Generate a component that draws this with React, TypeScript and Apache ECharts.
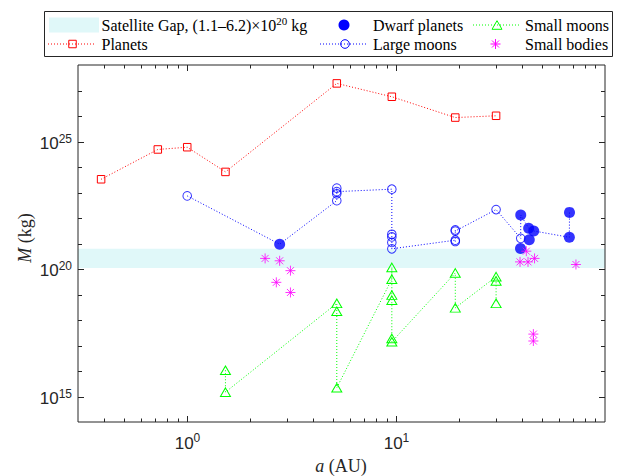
import { useEffect, useRef } from 'react';
import * as echarts from 'echarts';

// ---- axis ranges ----
const xMin = 0.3;
const xMax = 100;
const yMinExp = 14;
const yMaxExp = 28;
const xLabelExps = [0, 1, 2];
const yLabelExps = [15, 20, 25];

// ---- satellite gap band (kg) ----
const gapLow = 1.1e20;
const gapHigh = 6.2e20;

// ---- planets ----
const planetA = [0.387, 0.723, 1.0, 1.524, 5.2, 9.54, 19.2, 30.1];
const planetM = [3.3e23, 4.87e24, 5.97e24, 6.42e23, 1.9e27, 5.68e26, 8.68e25, 1.02e26];

// ---- large moons ----
const largeMoonNames = ['Moon', 'Europa', 'Io', 'Ganymede', 'Callisto', 'Titan', 'Rhea', 'Iapetus', 'Dione', 'Tethys', 'Ariel', 'Umbriel', 'Titania', 'Oberon', 'Triton', 'Charon'];
const largeMoonA = [1.0, 5.2, 5.2, 5.2, 5.2, 9.54, 9.54, 9.54, 9.54, 9.54, 19.2, 19.2, 19.2, 19.2, 30.1, 39.5];
const largeMoonM = [7.35e22, 4.8e22, 8.93e22, 1.48e23, 1.08e23, 1.35e23, 2.31e21, 1.81e21, 1.1e21, 6.2e20, 1.35e21, 1.2e21, 3.4e21, 3.08e21, 2.14e22, 1.59e21];

// ---- dwarf planets ----
const dwarfNames = ['Ceres', 'Pluto', 'Orcus', 'Haumea', 'Quaoar', 'Makemake', 'Gonggong', 'Eris'];
const dwarfA = [2.77, 39.5, 39.4, 43.1, 43.4, 45.6, 67.5, 67.6];
const dwarfM = [9.4e20, 1.3e22, 6.4e20, 4.0e21, 1.4e21, 3.1e21, 1.75e21, 1.66e22];

// order of the dotted path through large moons and dwarf planets
const largeMoonPath = ['Moon', 'Ceres', 'Europa', 'Io', 'Ganymede', 'Callisto', 'Titan', 'Rhea', 'Iapetus', 'Dione', 'Tethys', 'Ariel', 'Umbriel', 'Titania', 'Oberon', 'Triton', 'Charon', 'Pluto', 'Haumea', 'Makemake', 'Gonggong', 'Eris'];

// ---- small moons (in path order) ----
const smallMoonA = [1.524, 1.524, 5.2, 5.2, 5.2, 9.54, 9.54, 9.54, 9.54, 9.54, 9.54, 19.2, 19.2, 30.1, 30.1, 30.1];
const smallMoonM = [1.07e16, 1.48e15, 4.5e18, 2.2e18, 2.2e15, 4.0e19, 1.15e20, 9.5e18, 6.0e18, 1.9e17, 1.4e17, 7.0e19, 3.0e18, 5.0e19, 3.4e19, 4.5e18];

// ---- small bodies ----
const smallBodyA = [2.36, 2.77, 3.12, 2.67, 3.12, 42.0, 39.2, 42.8, 46.0, 72.6, 45.4, 45.4];
const smallBodyM = [2.6e20, 2.1e20, 8.6e19, 3.0e19, 1.2e19, 5.0e20, 1.9e20, 1.9e20, 2.6e20, 1.5e20, 2.8e17, 1.5e17];

// ---- styling ----
const axisColor = '#262626';
const bandColor = '#e0f8f9';
const red = '#ff0000';
const blue = '#0000ff';
const green = '#00ff00';
const magenta = '#ff00ff';
const serif = '"Liberation Serif", "Times New Roman", serif';
const sans = '"Liberation Sans", Arial, Helvetica, sans-serif';
const dotted = [1, 2];
const asteriskPath = 'path://M5,0L5,10M0,5L10,5M1.5,1.5L8.5,8.5M8.5,1.5L1.5,8.5';

const lg = Math.log10;
const pts = (a: number[], m: number[]) => a.map((x, i) => [lg(x), lg(m[i])]);

function buildOption() {
  const lookup: Record<string, number[]> = {};
  largeMoonNames.forEach((n, i) => (lookup[n] = [lg(largeMoonA[i]), lg(largeMoonM[i])]));
  dwarfNames.forEach((n, i) => (lookup[n] = [lg(dwarfA[i]), lg(dwarfM[i])]));
  const pathData = largeMoonPath.map((n) => lookup[n]);

  const xTickData: number[][] = [];
  for (let d = -1; d <= 1; d++) {
    for (let k = 1; k <= 9; k++) {
      const v = k * Math.pow(10, d);
      if (v > xMin * 1.001 && v < xMax * 0.999) {
        const major = k === 1 && xLabelExps.includes(d) ? 1 : 0;
        xTickData.push([lg(v), yMinExp, major, d]);
      }
    }
  }
  const yTickData: number[][] = [];
  for (let e = yMinExp + 1; e < yMaxExp; e++) {
    yTickData.push([lg(xMin), e, yLabelExps.includes(e) ? 1 : 0]);
  }

  const tickRich = {
    b: { fontSize: 17, fontFamily: sans, fill: axisColor, color: axisColor, lineHeight: 22 },
    s: { fontSize: 12, fontFamily: sans, fill: axisColor, color: axisColor, lineHeight: 12, verticalAlign: 'top' },
  };

  const legendRich = {
    n: { fontSize: 16, fontFamily: serif, fill: '#000', color: '#000', lineHeight: 20 },
    s: { fontSize: 11, fontFamily: serif, fill: '#000', color: '#000', lineHeight: 11, verticalAlign: 'top' },
  };

  const row1 = 25;
  const row2 = 44;
  const legendText = (x: number, y: number, text: string) => ({
    type: 'text',
    x,
    y,
    style: {
      text,
      rich: legendRich,
      fontSize: 16,
      fontFamily: serif,
      fill: '#000',
      verticalAlign: 'middle',
      textVerticalAlign: 'middle',
      align: 'left',
      textAlign: 'left',
    },
  });
  const dashLine = (x1: number, x2: number, y: number, color: string) => ({
    type: 'line',
    shape: { x1, y1: y, x2, y2: y },
    style: { stroke: color, lineWidth: 1, lineDash: dotted },
  });
  const ast = (cx: number, cy: number, r: number) => ({
    type: 'group',
    children: [
      { type: 'line', shape: { x1: cx, y1: cy - r, x2: cx, y2: cy + r }, style: { stroke: magenta, lineWidth: 1 } },
      { type: 'line', shape: { x1: cx - r, y1: cy, x2: cx + r, y2: cy }, style: { stroke: magenta, lineWidth: 1 } },
      { type: 'line', shape: { x1: cx - r * 0.7, y1: cy - r * 0.7, x2: cx + r * 0.7, y2: cy + r * 0.7 }, style: { stroke: magenta, lineWidth: 1 } },
      { type: 'line', shape: { x1: cx + r * 0.7, y1: cy - r * 0.7, x2: cx - r * 0.7, y2: cy + r * 0.7 }, style: { stroke: magenta, lineWidth: 1 } },
    ],
  });

  const graphic = [
    { type: 'rect', shape: { x: 44.5, y: 11.5, width: 568, height: 45 }, style: { fill: '#fff', stroke: axisColor, lineWidth: 1 } },
    { type: 'rect', shape: { x: 49, y: 17.5, width: 50, height: 15 }, style: { fill: bandColor } },
    legendText(101.5, row1, '{n|Satellite Gap, (1.1–6.2)×10}{s|20}{n| kg}'),
    dashLine(48, 96, row2, red),
    { type: 'rect', shape: { x: 68.75, y: row2 - 3.75, width: 7.5, height: 7.5 }, style: { fill: 'none', stroke: red, lineWidth: 1 } },
    legendText(101.5, row2, '{n|Planets}'),
    { type: 'circle', shape: { cx: 344, cy: row1, r: 5.5 }, style: { fill: blue } },
    legendText(373, row1, '{n|Dwarf planets}'),
    dashLine(320, 367, row2, blue),
    { type: 'circle', shape: { cx: 345, cy: row2, r: 4.3 }, style: { fill: 'none', stroke: blue, lineWidth: 1 } },
    legendText(373, row2, '{n|Large moons}'),
    dashLine(473, 521, row1, green),
    { type: 'polygon', shape: { points: [[497, row1 - 4.3], [502, row1 + 4.3], [492, row1 + 4.3]] }, style: { fill: 'none', stroke: green, lineWidth: 1 } },
    legendText(525, row1, '{n|Small moons}'),
    ast(495.5, row2, 5),
    legendText(525, row2, '{n|Small bodies}'),
    {
      type: 'text',
      x: 341,
      y: 466,
      style: {
        text: '{i|a}{n| (AU)}',
        rich: {
          i: { fontSize: 18, fontFamily: serif, fontStyle: 'italic', fill: axisColor, color: axisColor },
          n: { fontSize: 18, fontFamily: serif, fill: axisColor, color: axisColor },
        },
        align: 'center',
        textAlign: 'center',
        verticalAlign: 'middle',
        textVerticalAlign: 'middle',
      },
    },
    {
      type: 'text',
      x: 25,
      y: 238,
      rotation: Math.PI / 2,
      style: {
        text: '{i|M}{n| (kg)}',
        rich: {
          i: { fontSize: 18, fontFamily: serif, fontStyle: 'italic', fill: axisColor, color: axisColor },
          n: { fontSize: 18, fontFamily: serif, fill: axisColor, color: axisColor },
        },
        align: 'center',
        textAlign: 'center',
        verticalAlign: 'middle',
        textVerticalAlign: 'middle',
      },
    },
  ];

  const hidden = {
    axisLine: { show: false },
    axisTick: { show: false },
    axisLabel: { show: false },
    splitLine: { show: false },
  };

  return {
    animation: false,
    backgroundColor: '#ffffff',
    grid: { left: 78, top: 65, width: 527, height: 357, show: true, borderColor: axisColor, borderWidth: 1, backgroundColor: 'transparent', z: 5 },
    xAxis: { type: 'value', min: lg(xMin), max: lg(xMax), ...hidden },
    yAxis: { type: 'value', min: yMinExp, max: yMaxExp, ...hidden },
    graphic,
    series: [
      {
        name: 'Satellite Gap',
        type: 'line',
        data: [],
        silent: true,
        z: 1,
        markArea: {
          silent: true,
          itemStyle: { color: bandColor },
          data: [[{ yAxis: lg(gapLow) }, { yAxis: lg(gapHigh) }]],
        },
      },
      {
        name: 'Planets',
        type: 'line',
        data: pts(planetA, planetM),
        symbol: 'rect',
        symbolSize: 7.5,
        showAllSymbol: true,
        silent: true,
        z: 3,
        itemStyle: { color: 'rgba(0,0,0,0)', borderColor: red, borderWidth: 1 },
        lineStyle: { color: red, width: 1, type: dotted },
      },
      {
        name: 'Large moons path',
        type: 'line',
        data: pathData,
        symbol: 'none',
        silent: true,
        z: 3,
        lineStyle: { color: blue, width: 1, type: dotted },
      },
      {
        name: 'Large moons',
        type: 'scatter',
        data: pts(largeMoonA, largeMoonM),
        symbol: 'circle',
        symbolSize: 8.6,
        silent: true,
        z: 4,
        itemStyle: { color: 'rgba(0,0,0,0)', borderColor: blue, borderWidth: 1 },
      },
      {
        name: 'Dwarf planets',
        type: 'scatter',
        data: pts(dwarfA, dwarfM),
        symbol: 'circle',
        symbolSize: 11,
        silent: true,
        z: 4,
        itemStyle: { color: blue },
      },
      {
        name: 'Small moons',
        type: 'line',
        data: pts(smallMoonA, smallMoonM),
        symbol: 'triangle',
        symbolSize: [10, 8.6],
        showAllSymbol: true,
        silent: true,
        z: 3,
        itemStyle: { color: 'rgba(0,0,0,0)', borderColor: green, borderWidth: 1 },
        lineStyle: { color: green, width: 1, type: dotted },
      },
      {
        name: 'Small bodies',
        type: 'scatter',
        data: pts(smallBodyA, smallBodyM),
        symbol: asteriskPath,
        symbolSize: 10,
        silent: true,
        z: 4,
        itemStyle: { color: 'rgba(0,0,0,0)', borderColor: magenta, borderWidth: 1 },
      },
      {
        name: 'xTicks',
        type: 'custom',
        coordinateSystem: 'cartesian2d',
        data: xTickData,
        encode: { x: 0, y: 1 },
        clip: false,
        silent: true,
        z: 10,
        renderItem: (params: any, api: any) => {
          const cs = params.coordSys;
          const major = api.value(2);
          const e = api.value(3);
          const p = api.coord([api.value(0), yMinExp]);
          const px = Math.round(p[0]) + 0.5;
          const bottom = cs.y + cs.height;
          const top = cs.y;
          const len = major ? 6 : 3.5;
          const children: any[] = [
            { type: 'line', shape: { x1: px, y1: bottom, x2: px, y2: bottom - len }, style: { stroke: axisColor, lineWidth: 1 } },
            { type: 'line', shape: { x1: px, y1: top, x2: px, y2: top + len }, style: { stroke: axisColor, lineWidth: 1 } },
          ];
          if (major) {
            children.push({
              type: 'text',
              x: px,
              y: bottom + 10,
              style: {
                text: '{b|10}{s|' + e + '}',
                rich: tickRich,
                align: 'center',
                textAlign: 'center',
                verticalAlign: 'top',
                textVerticalAlign: 'top',
              },
            });
          }
          return { type: 'group', children };
        },
      },
      {
        name: 'yTicks',
        type: 'custom',
        coordinateSystem: 'cartesian2d',
        data: yTickData,
        encode: { x: 0, y: 1 },
        clip: false,
        silent: true,
        z: 10,
        renderItem: (params: any, api: any) => {
          const cs = params.coordSys;
          const e = api.value(1);
          const major = api.value(2);
          const p = api.coord([lg(xMin), e]);
          const py = Math.round(p[1]) + 0.5;
          const left = cs.x;
          const right = cs.x + cs.width;
          const len = major ? 6 : 4;
          const children: any[] = [
            { type: 'line', shape: { x1: left, y1: py, x2: left + len, y2: py }, style: { stroke: axisColor, lineWidth: 1 } },
            { type: 'line', shape: { x1: right, y1: py, x2: right - len, y2: py }, style: { stroke: axisColor, lineWidth: 1 } },
          ];
          if (major) {
            children.push({
              type: 'text',
              x: left - 6,
              y: py + 1,
              style: {
                text: '{b|10}{s|' + e + '}',
                rich: tickRich,
                align: 'right',
                textAlign: 'right',
                verticalAlign: 'middle',
                textVerticalAlign: 'middle',
              },
            });
          }
          return { type: 'group', children };
        },
      },
    ],
  };
}

export default function App() {
  const ref = useRef<HTMLDivElement>(null);
  useEffect(() => {
    if (!ref.current) return;
    const chart = echarts.init(ref.current, null, { renderer: 'svg' });
    chart.setOption(buildOption() as any);
    return () => chart.dispose();
  }, []);
  return (
    <div
      ref={ref}
      style={{ position: 'fixed', left: 0, top: 0, width: 617, height: 476, background: '#fff' }}
    />
  );
}
